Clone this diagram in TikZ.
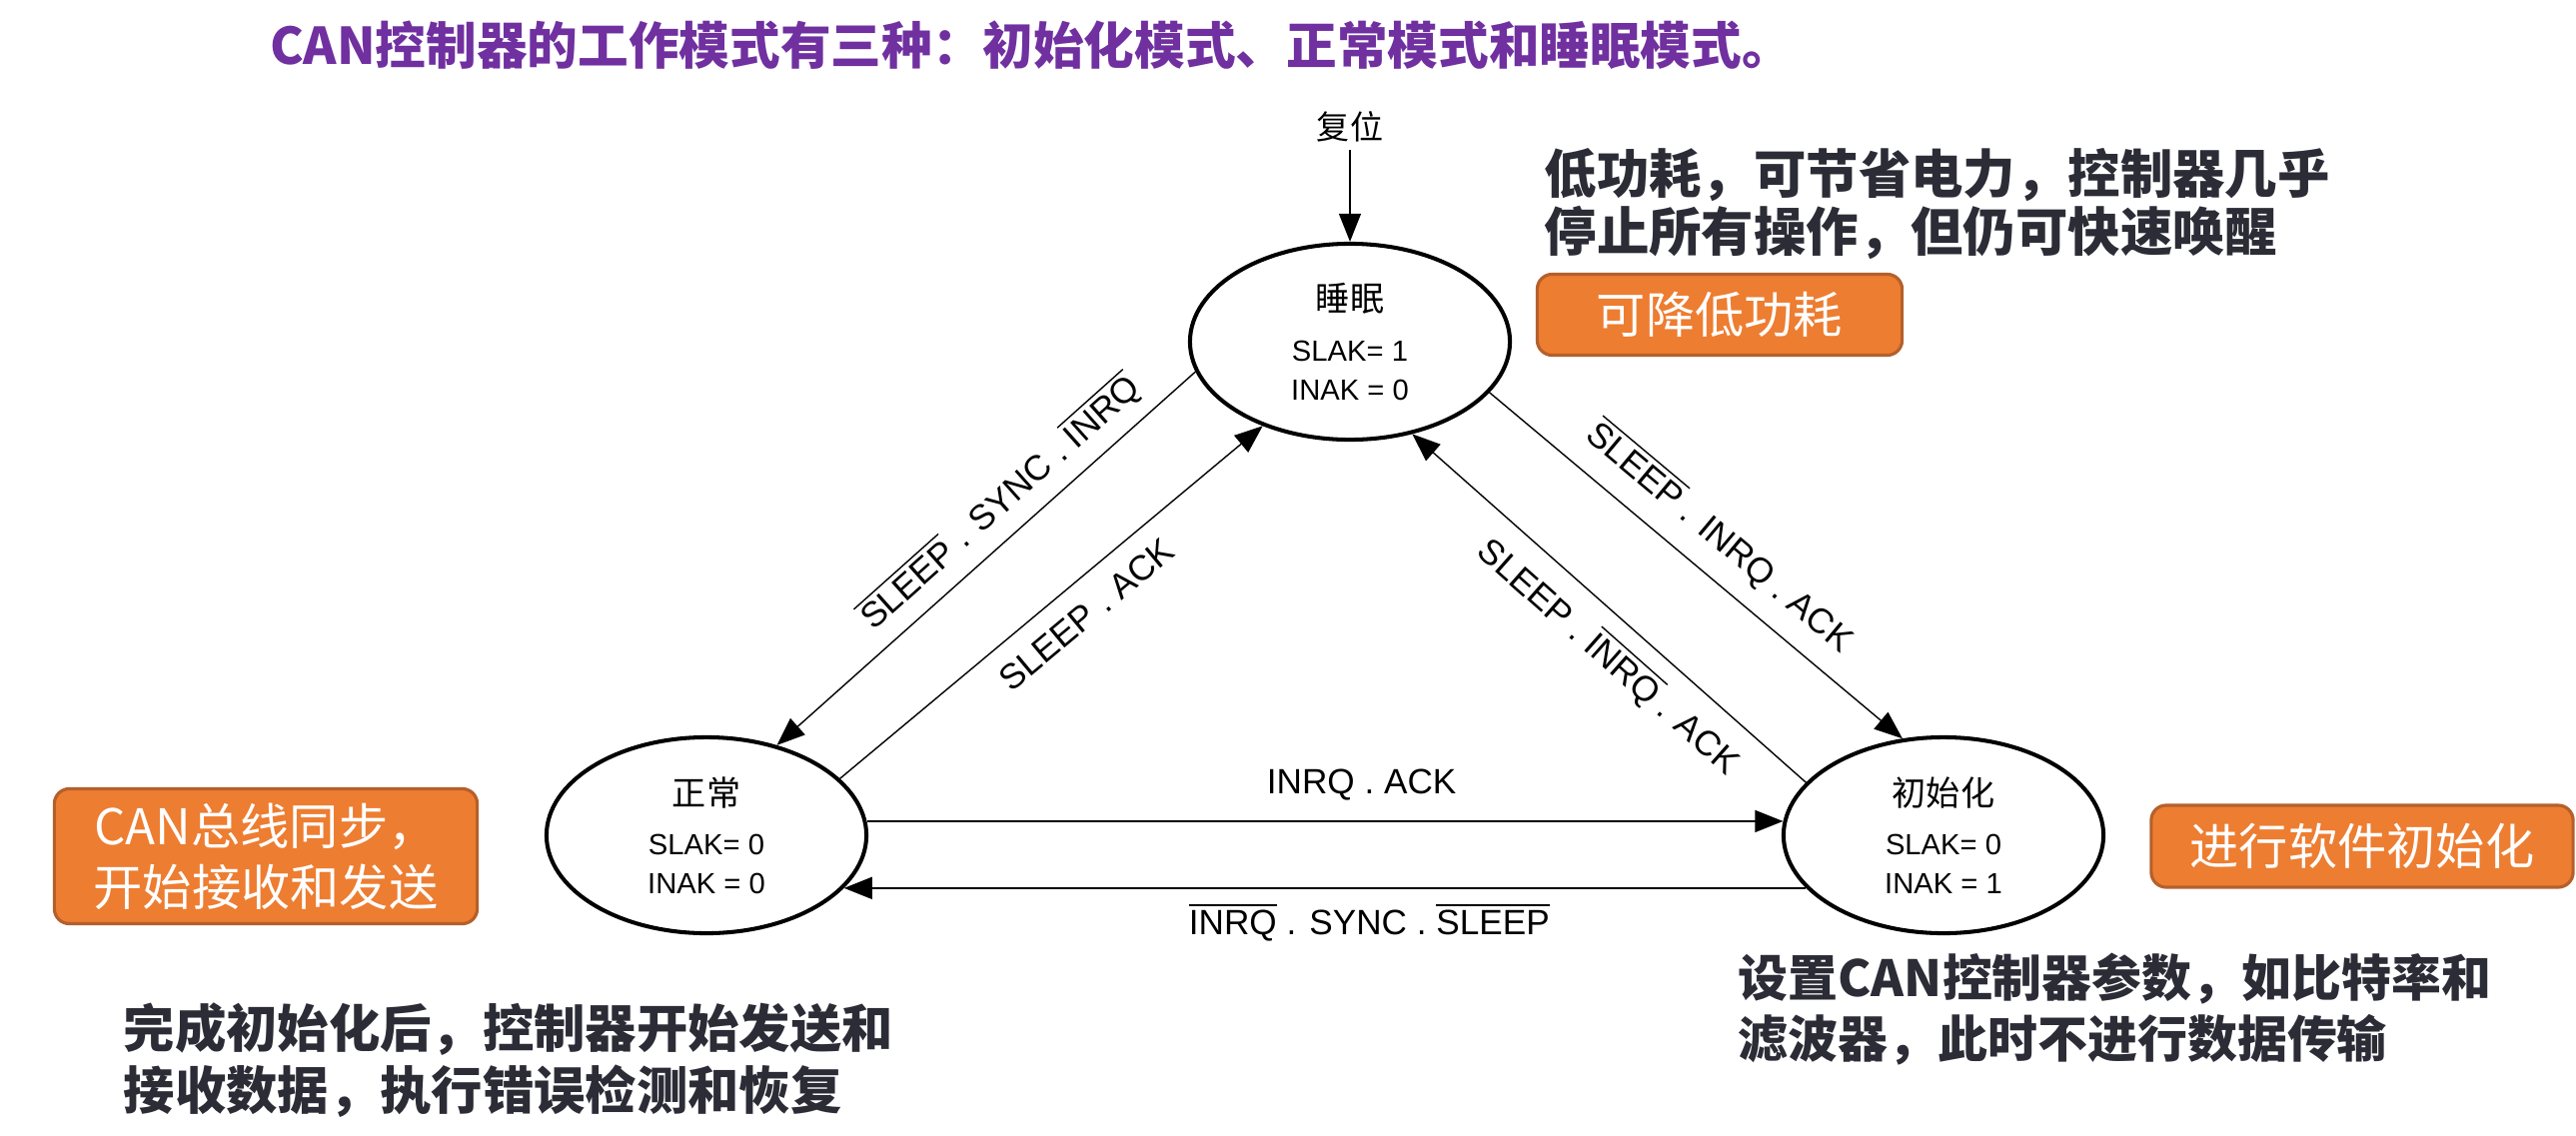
\documentclass[tikz,border=0pt]{standalone}
\usepackage{fontspec}
\setmainfont{Liberation Sans}
\newfontfamily\cjk{Noto Sans CJK SC}
\usepackage{tikz}
\usetikzlibrary{arrows.meta,shapes.geometric}
\definecolor{titlepurple}{RGB}{112,48,160}
\definecolor{ink}{RGB}{44,44,54}
\definecolor{tagfill}{RGB}{237,125,49}
\definecolor{tagline}{RGB}{181,96,43}
\newcommand{\ovl}[1]{$\overline{\mbox{#1}}$}

\begin{document}
\begin{tikzpicture}[
      x=0.01cm,y=-0.01cm,>={Triangle[length=8pt,width=6.2pt]},
      mode/.style={ellipse,draw,line width=1.15pt,minimum width=3.2cm,minimum height=1.96cm,inner sep=0pt,align=center,font=\fontsize{8.3}{11.1}\selectfont},
      tag/.style={rectangle,rounded corners=0.15cm,draw=tagline,line width=0.9pt,fill=tagfill,text=white,align=center,inner sep=0pt,font=\cjk\fontsize{14}{17.4}\selectfont},
      note/.style={anchor=west,align=left,inner sep=0pt,text=ink,font=\cjk\bfseries\fontsize{14.2}{17.4}\selectfont},
      edge/.style={->,line width=0.4pt},
      bus/.style={->,line width=0.65pt},
      cond/.style={sloped,inner sep=0pt,font=\fontsize{10}{12}\selectfont}]
    \useasboundingbox (0,0) rectangle (2578,1136);
    \node[font=\cjk\bfseries\fontsize{14.4}{17}\selectfont,text=titlepurple] (title) at (1032,45) {CAN控制器的工作模式有三种：初始化模式、正常模式和睡眠模式。};
    \node[mode] (sleep) at (1351,342) {{\cjk\fontsize{9.7}{11.1}\selectfont 睡眠}\\[2.9pt]SLAK= 1\\INAK = 0};
    \node[mode] (normal) at (707,836) {{\cjk\fontsize{9.7}{11.1}\selectfont 正常}\\[2.9pt]SLAK= 0\\INAK = 0};
    \node[mode] (init) at (1945,836) {{\cjk\fontsize{9.7}{11.1}\selectfont 初始化}\\[2.9pt]SLAK= 0\\INAK = 1};
    \node[font=\cjk\fontsize{9.4}{11}\selectfont,inner sep=2pt] (reset) at (1351,127) {复位};
    \draw[->,line width=0.65pt] (reset) -- (sleep);
    \draw[edge,<-] (normal.52) -- node[cond,above=3.8pt,pos=0.585] {\ovl{SLEEP} . SYNC . \ovl{INRQ}} (sleep.191);
    \draw[edge] (normal.23) -- node[cond,below=5.3pt,pos=0.535] {SLEEP . ACK} (sleep.224);
    \draw[edge,<-] (sleep.304) -- node[cond,below=4.5pt,pos=0.56] {SLEEP . \ovl{INRQ} . ACK} (init.159);
    \draw[edge] (sleep.340) -- node[cond,above=5.2pt,pos=0.5] {\ovl{SLEEP} . INRQ . ACK} (init.113);
    \draw[bus] (normal.5) -- node[cond,above=5.5pt,pos=0.54] {INRQ . ACK} (init.175);
    \draw[bus,<-] (normal.339) -- node[cond,below=4pt,pos=0.546] {\ovl{INRQ} . SYNC . \ovl{SLEEP}} (init.201);
    \node[tag,minimum width=3.65cm,minimum height=0.81cm] (lowtag) at (1721,315) {可降低功耗};
    \node[tag,minimum width=4.23cm,minimum height=1.35cm] (synctag) at (266,857) {CAN总线同步，\\开始接收和发送};
    \node[tag,minimum width=4.22cm,minimum height=0.82cm] (softtag) at (2364,847) {进行软件初始化};
    \node[note,font=\cjk\bfseries\fontsize{14.9}{16.5}\selectfont] (sleepnote) at (1545,204) {低功耗，可节省电力，控制器几乎\\停止所有操作，但仍可快速唤醒};
    \node[note,font=\cjk\bfseries\fontsize{14.6}{17.6}\selectfont] (normalnote) at (123,1061) {完成初始化后，控制器开始发送和\\接收数据，执行错误检测和恢复};
    \node[note] (initnote) at (1739,1010) {设置CAN控制器参数，如比特率和\\滤波器，此时不进行数据传输};
\end{tikzpicture}
\end{document}
